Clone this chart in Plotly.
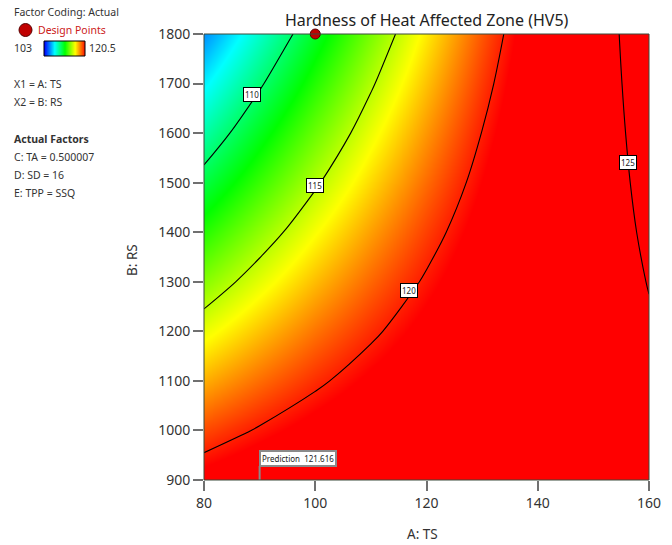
import plotly.graph_objects as go

W, H = 672, 545

# Factor settings (A: TS across, B: RS up)
ts_values = [80, 90, 100, 110, 120, 130, 140, 150, 160]
rs_values = [900, 1000, 1100, 1200, 1300, 1400, 1500, 1600, 1700, 1800]

# Predicted hardness HV5, one row per RS value, one column per TS value
hardness = [
    [120.95, 121.616, 122.21, 122.72, 123.15, 123.51, 123.79, 123.99, 124.11],
    [119.23, 120.14, 120.97, 121.73, 122.41, 123.01, 123.53, 123.98, 124.35],
    [117.51, 118.66, 119.74, 120.74, 121.67, 122.51, 123.28, 123.97, 124.59],
    [115.78, 117.18, 118.51, 119.75, 120.92, 122.02, 123.03, 123.96, 124.82],
    [114.06, 115.71, 117.28, 118.77, 120.18, 121.52, 122.78, 123.96, 125.06],
    [112.34, 114.23, 116.04, 117.78, 119.44, 121.02, 122.52, 123.95, 125.30],
    [110.62, 112.75, 114.81, 116.79, 118.70, 120.52, 122.27, 123.94, 125.54],
    [108.89, 111.28, 113.58, 115.81, 117.95, 120.03, 122.02, 123.94, 125.77],
    [107.17, 109.80, 112.35, 114.82, 117.21, 119.53, 121.77, 123.93, 126.01],
    [105.45, 108.32, 111.12, 113.83, 116.47, 119.03, 121.52, 123.92, 126.25],
]

contour_levels = [110, 115, 120, 125]

design_ts = [100]
design_rs = [1800]

pred_ts = 90
pred_rs = 900
pred_value = 121.616

color_min = 103
color_max = 120.5

x_ticks = [80, 100, 120, 140, 160]
y_ticks = [900, 1000, 1100, 1200, 1300, 1400, 1500, 1600, 1700, 1800]

legend_lines = ["X1 = A: TS", "X2 = B: RS"]
actual_factors = ["C: TA = 0.500007", "D: SD = 16", "E: TPP = SSQ"]

FONT = "Noto Sans"
TXT = "#333333"

rainbow = [
    [0.0, "rgb(0,0,255)"],
    [0.25, "rgb(0,255,255)"],
    [0.5, "rgb(0,255,0)"],
    [0.75, "rgb(255,255,0)"],
    [1.0, "rgb(255,0,0)"],
]


def fx(px):
    return px / W


def fy(py):
    return 1 - py / H


# plot frame in pixels
PL, PR, PT, PB = 204, 649, 34, 480

fig = go.Figure()

fig.add_trace(go.Heatmap(
    x=ts_values, y=rs_values, z=hardness,
    zmin=color_min, zmax=color_max, colorscale=rainbow,
    zsmooth="best", showscale=False, hoverinfo="skip",
))

fig.add_trace(go.Contour(
    x=ts_values, y=rs_values, z=hardness,
    autocontour=False,
    contours=dict(start=contour_levels[0], end=contour_levels[-1],
                  size=contour_levels[1] - contour_levels[0], coloring="none"),
    line=dict(color="black", width=1.1, smoothing=1.0),
    showscale=False, hoverinfo="skip",
))

fig.add_trace(go.Scatter(
    x=design_ts, y=design_rs, mode="markers",
    marker=dict(size=10, color="#c00000", line=dict(color="#5a0000", width=1)),
    cliponaxis=False, showlegend=False, hoverinfo="skip",
))

# small gradient key beside the "103 ... 120.5" labels
fig.add_trace(go.Heatmap(
    x=[0, 1], y=[0, 1], z=[[color_min, color_max], [color_min, color_max]],
    zmin=color_min, zmax=color_max, colorscale=rainbow, zsmooth="best",
    showscale=False, hoverinfo="skip", xaxis="x2", yaxis="y2",
))

annotations = []

# contour value tags
label_pos = [(88.7, 1677), (100, 1495), (116.9, 1282), (156.3, 1541)]
for lvl, (lx, ly) in zip(contour_levels, label_pos):
    annotations.append(dict(
        x=lx, y=ly, xref="x", yref="y", text=str(lvl), showarrow=False,
        font=dict(family=FONT, size=8, color="#222"),
        bgcolor="white", bordercolor="black", borderwidth=1, borderpad=1,
    ))

# prediction flag
annotations.append(dict(
    x=pred_ts, y=pred_rs, xref="x", yref="y",
    text=f"Prediction  {pred_value:.3f}", showarrow=False,
    xanchor="left", yanchor="bottom", yshift=13, xshift=-1,
    font=dict(family=FONT, size=8, color="#222"),
    bgcolor="white", bordercolor="#8a8a8a", borderwidth=2, borderpad=1,
))

# title
annotations.append(dict(
    x=fx((PL + PR) / 2), y=fy(20), xref="paper", yref="paper",
    text="Hardness of Heat Affected Zone (HV5)", showarrow=False,
    font=dict(family=FONT, size=16, color="#222"), xanchor="center", yanchor="middle",
))

# axis titles
annotations.append(dict(
    x=fx((PL + PR) / 2 - 4), y=fy(534), xref="paper", yref="paper",
    text="A: TS", showarrow=False, font=dict(family=FONT, size=13.5, color=TXT),
    xanchor="center", yanchor="middle",
))
annotations.append(dict(
    x=fx(132), y=fy(260), xref="paper", yref="paper",
    text="B: RS", showarrow=False, textangle=-90,
    font=dict(family=FONT, size=13.5, color=TXT),
    xanchor="center", yanchor="middle",
))

# side panel text
def side_text(txt, px, py, color=TXT, bold=False, size=10.5):
    annotations.append(dict(
        x=fx(px), y=fy(py), xref="paper", yref="paper",
        text=f"<b>{txt}</b>" if bold else txt, showarrow=False,
        xanchor="left", yanchor="middle",
        font=dict(family=FONT, size=size, color=color),
    ))

side_text("Factor Coding: Actual", 12, 12)
side_text("Design Points", 36, 30, color="#cc2020")
side_text(f"{color_min:g}", 12, 48)
side_text(f"{color_max:g}", 87, 48)
for i, t in enumerate(legend_lines):
    side_text(t, 12, 84 + 18 * i)
side_text("Actual Factors", 12, 139, bold=True)
for i, t in enumerate(actual_factors):
    side_text(t, 12, 157 + 18 * i)

shapes = [
    # design point symbol in the side panel
    dict(type="circle", xref="paper", yref="paper",
         x0=fx(19), x1=fx(32), y0=fy(36.5), y1=fy(23.5),
         fillcolor="#c00000", line=dict(color="#5a0000", width=1)),
    # outline of the gradient key
    dict(type="rect", xref="paper", yref="paper",
         x0=fx(44), x1=fx(85), y0=fy(56), y1=fy(41),
         line=dict(color="black", width=1)),
    # prediction flag pole
    dict(type="line", xref="x", yref="y", ysizemode="pixel", yanchor=pred_rs,
         x0=pred_ts, x1=pred_ts, y0=0, y1=14,
         line=dict(color="#8a8a8a", width=2)),
    # plot frame
    dict(type="rect", xref="paper", yref="paper",
         x0=fx(PL), x1=fx(PR), y0=fy(PB), y1=fy(PT),
         line=dict(color="#3a4a3a", width=1)),
]

fig.update_layout(
    width=W, height=H,
    margin=dict(l=0, r=0, t=0, b=0),
    paper_bgcolor="white", plot_bgcolor="white",
    showlegend=False,
    font=dict(family=FONT, color=TXT),
    xaxis=dict(
        domain=[fx(PL), fx(PR)], range=[ts_values[0], ts_values[-1]],
        tickvals=x_ticks, ticks="outside", ticklen=10, tickwidth=1.5,
        tickcolor="#707070", tickfont=dict(family=FONT, size=14, color=TXT),
        showgrid=False, zeroline=False, showline=False, automargin=False,
    ),
    yaxis=dict(
        domain=[fy(PB), fy(PT)], range=[rs_values[0], rs_values[-1]],
        tickvals=y_ticks, ticks="outside", ticklen=10, tickwidth=1.5,
        tickcolor="#707070", tickfont=dict(family=FONT, size=14, color=TXT),
        showgrid=False, zeroline=False, showline=False, automargin=False,
    ),
    xaxis2=dict(domain=[fx(44), fx(85)], range=[0, 1], visible=False,
                anchor="y2", fixedrange=True),
    yaxis2=dict(domain=[fy(56), fy(41)], range=[0, 1], visible=False,
                anchor="x2", fixedrange=True),
    annotations=annotations,
    shapes=shapes,
)

fig.write_html("out.html")
